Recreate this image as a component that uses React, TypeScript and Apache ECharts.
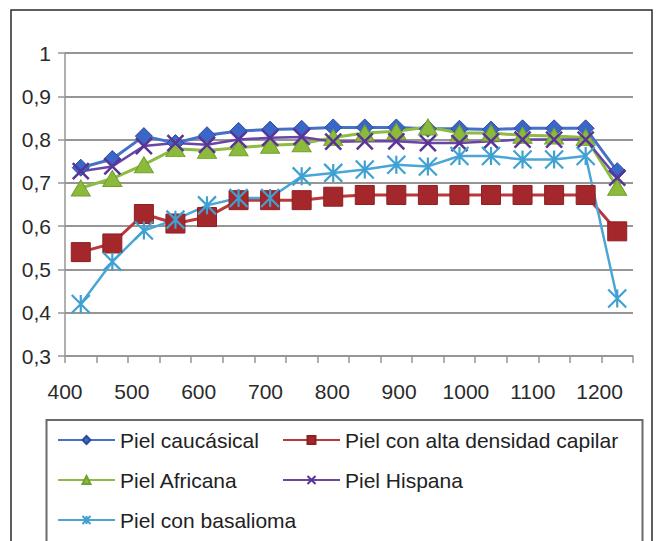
import React, { useEffect, useRef } from 'react';
import * as echarts from 'echarts';

// Wavelengths (nm) of the measured points
const wavelengths = ['430', '480', '525', '570', '620', '665', '710', '760', '805', '855', '900', '950', '995', '1040', '1090', '1135', '1180', '1230'];

// Reflectance per skin type
const caucasica = [0.735, 0.755, 0.808, 0.792, 0.81, 0.82, 0.823, 0.825, 0.828, 0.828, 0.828, 0.825, 0.825, 0.823, 0.826, 0.826, 0.826, 0.727];
const altaDensidad = [0.54, 0.56, 0.628, 0.606, 0.621, 0.66, 0.66, 0.66, 0.668, 0.672, 0.672, 0.672, 0.672, 0.672, 0.672, 0.672, 0.672, 0.588];
const africana = [0.688, 0.71, 0.742, 0.779, 0.775, 0.781, 0.787, 0.79, 0.805, 0.815, 0.819, 0.829, 0.815, 0.815, 0.81, 0.808, 0.805, 0.69];
const hispana = [0.727, 0.738, 0.785, 0.792, 0.788, 0.8, 0.804, 0.806, 0.795, 0.796, 0.796, 0.792, 0.792, 0.796, 0.8, 0.8, 0.8, 0.712];
const basalioma = [0.42, 0.518, 0.59, 0.615, 0.648, 0.665, 0.665, 0.715, 0.723, 0.731, 0.742, 0.738, 0.762, 0.762, 0.754, 0.754, 0.762, 0.433];

const seriesNames = [
  'Piel caucásical',
  'Piel con alta densidad capilar',
  'Piel Africana',
  'Piel Hispana',
  'Piel con basalioma',
];

// Axis ranges
const xLabelMin = 400;
const xLabelMax = 1250;
const xLabelStep = 100;
const yMin = 0.3;
const yMax = 1;
const yStep = 0.1;

const FONT = '"Liberation Sans", Arial, Helvetica, sans-serif';
const GRID_GRAY = '#969696';
const CROSS = 'path://M0,0L10,10M10,0L0,10';
const STAR = 'path://M0,0L10,10M10,0L0,10M5,0L5,10';

function makeSeries(
  name: string,
  data: number[],
  lineColor: string,
  lineWidth: number,
  symbol: string,
  symbolSize: number | number[],
  fill: string,
  border: string,
  borderWidth: number
) {
  return {
    name,
    type: 'line',
    xAxisIndex: 1,
    yAxisIndex: 0,
    data,
    symbol,
    symbolSize,
    showAllSymbol: true,
    lineStyle: { color: lineColor, width: lineWidth },
    itemStyle: { color: fill, borderColor: border, borderWidth },
    emphasis: { disabled: true },
  };
}

export default function App() {
  const ref = useRef<HTMLDivElement>(null);

  useEffect(() => {
    if (!ref.current) return;
    const chart = echarts.init(ref.current, undefined, { renderer: 'svg' });

    const legendText = { fontFamily: FONT, fontSize: 21, color: '#222', lineHeight: 24 };
    const legendBase = {
      orient: 'vertical',
      top: 428,
      padding: 0,
      itemWidth: 57,
      itemHeight: 10,
      itemGap: 16,
      selectedMode: false,
      lineStyle: { width: 2 },
      textStyle: legendText,
    };

    chart.setOption({
      animation: false,
      backgroundColor: '#fff',
      textStyle: { fontFamily: FONT },
      grid: { left: 65, right: 24, top: 53, bottom: 185, containLabel: false },
      graphic: [
        {
          type: 'rect',
          z: -10,
          shape: { x: 11, y: 10, width: 641, height: 560 },
          style: { fill: 'none', stroke: '#2a2a2a', lineWidth: 1.5 },
        },
        {
          type: 'rect',
          z: -10,
          shape: { x: 46.5, y: 420, width: 596, height: 150 },
          style: { fill: 'none', stroke: '#6a6a6a', lineWidth: 2 },
        },
      ],
      legend: [
        { ...legendBase, left: 57, data: [seriesNames[0], seriesNames[2], seriesNames[4]] },
        { ...legendBase, left: 282, data: [seriesNames[1], seriesNames[3]] },
      ],
      xAxis: [
        {
          // numeric wavelength labels
          type: 'value',
          position: 'bottom',
          min: xLabelMin,
          max: xLabelMax,
          interval: xLabelStep,
          axisLine: { show: false },
          axisTick: { show: false },
          splitLine: { show: false },
          axisLabel: {
            margin: 25,
            fontSize: 21,
            fontFamily: FONT,
            color: '#2a2a2a',
            showMaxLabel: false,
            formatter: (v: number) => (v % 100 === 0 ? String(v) : ''),
          },
        },
        {
          // measurement positions, with tick marks between them
          type: 'category',
          position: 'bottom',
          data: wavelengths,
          boundaryGap: true,
          axisLine: { show: true, lineStyle: { color: GRID_GRAY, width: 1.5 } },
          axisTick: { show: true, interval: 0, length: 7, lineStyle: { color: GRID_GRAY, width: 1.5 } },
          axisLabel: { show: false },
          splitLine: { show: false },
        },
      ],
      yAxis: {
        type: 'value',
        min: yMin,
        max: yMax,
        interval: yStep,
        axisLine: { show: true, lineStyle: { color: GRID_GRAY, width: 1.5 } },
        axisTick: { show: true, length: 7, lineStyle: { color: GRID_GRAY, width: 1.5 } },
        splitLine: { show: true, lineStyle: { color: GRID_GRAY, width: 1.8 } },
        axisLabel: {
          margin: 14,
          fontSize: 21,
          fontFamily: FONT,
          color: '#2a2a2a',
          formatter: (v: number) =>
            Math.abs(v - 1) < 1e-9 ? '1' : v.toFixed(1).replace('.', ','),
        },
      },
      series: [
        makeSeries(seriesNames[0], caucasica, '#4571c6', 3, 'diamond', 17, '#3a66c8', '#2b4c98', 1),
        makeSeries(seriesNames[1], altaDensidad, '#b8383b', 3, 'rect', 19, '#a4282b', '#8c2024', 1),
        makeSeries(seriesNames[2], africana, '#8dbb44', 3, 'triangle', [19, 16], '#8cbb3c', '#72a02c', 1),
        makeSeries(seriesNames[3], hispana, '#6a44a6', 2.5, CROSS, 16, '#5a3396', '#5a3396', 2.5),
        makeSeries(seriesNames[4], basalioma, '#4ba6d6', 2.5, STAR, 18, '#3fa0d2', '#3fa0d2', 2.2),
      ],
    });

    return () => chart.dispose();
  }, []);

  return (
    <div
      ref={ref}
      style={{ position: 'fixed', left: 0, top: 0, width: 657, height: 541, background: '#fff' }}
    />
  );
}
